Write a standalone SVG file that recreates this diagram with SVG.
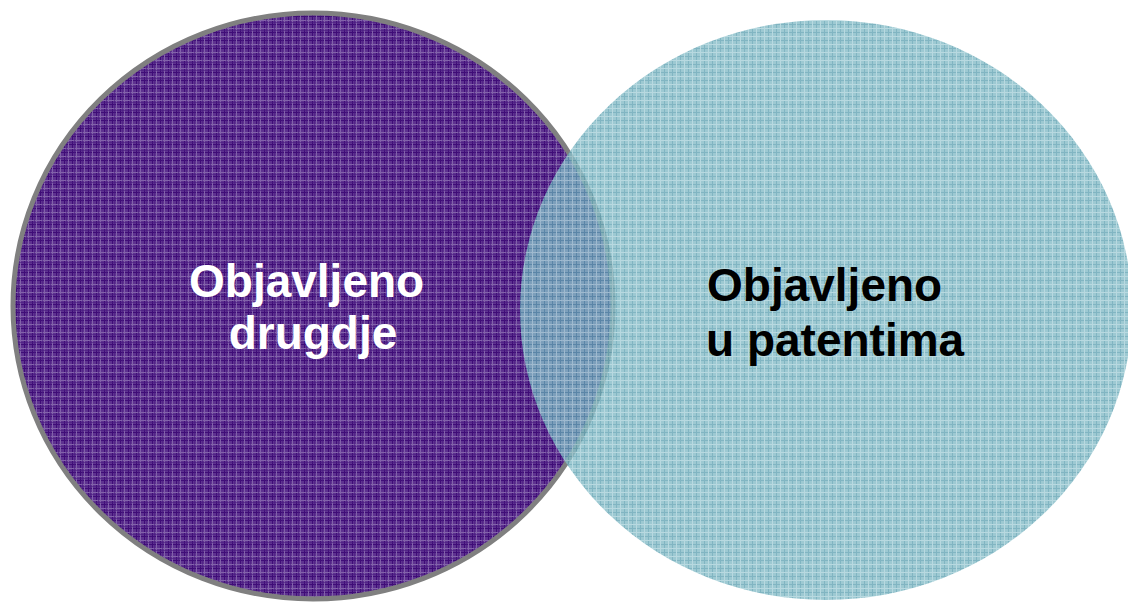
<svg xmlns="http://www.w3.org/2000/svg" width="1128" height="602" viewBox="0 0 1128 602">
  <style>
    .lbl { font-family: "Liberation Sans", Arial, sans-serif; font-weight: bold; font-size: 46px; }
  </style>
  <defs>
    <pattern id="purplePlaid" x="0" y="0" width="8" height="8" patternUnits="userSpaceOnUse">
      <rect width="8" height="8" fill="#5E3290"/>
      <rect x="0" y="0" width="1" height="8" fill="#3F0C77"/>
      <rect x="0" y="0" width="8" height="1" fill="#3F0C77"/>
      <rect x="4" y="0" width="1" height="8" fill="#8262AA"/>
      <rect x="0" y="4" width="8" height="1" fill="#8262AA"/>
      <rect x="2" y="0" width="1" height="8" fill="#4A1A80" opacity="0.6"/>
      <rect x="0" y="6" width="8" height="1" fill="#4A1A80" opacity="0.6"/>
    </pattern>
    <pattern id="tealPlaid" x="0" y="0" width="8" height="8" patternUnits="userSpaceOnUse">
      <rect width="8" height="8" fill="#85BCC7"/>
      <rect x="0" y="0" width="1" height="8" fill="#62A3B3"/>
      <rect x="0" y="0" width="8" height="1" fill="#62A3B3"/>
      <rect x="4" y="0" width="1" height="8" fill="#A6D0D8"/>
      <rect x="0" y="4" width="8" height="1" fill="#A6D0D8"/>
    </pattern>
  </defs>
  <rect width="1128" height="602" fill="#FFFFFF"/>
  <g id="node-drugdje">
    <ellipse cx="313" cy="306" rx="300" ry="293" fill="url(#purplePlaid)" stroke="#808080" stroke-width="5"/>
  </g>
  <g id="node-patenti">
    <ellipse cx="826" cy="310" rx="306" ry="290" fill="url(#tealPlaid)" opacity="0.8"/>
  </g>
  <g id="labels">
    <text class="lbl" fill="#FFFFFF" text-anchor="middle">
      <tspan x="313" y="297">Objavljeno</tspan>
      <tspan x="313" y="349">drugdje</tspan>
    </text>
    <text class="lbl" fill="#000000">
      <tspan x="707" y="301">Objavljeno</tspan>
      <tspan x="706" y="356">u patentima</tspan>
    </text>
  </g>
  <g id="connectors"/>
</svg>
